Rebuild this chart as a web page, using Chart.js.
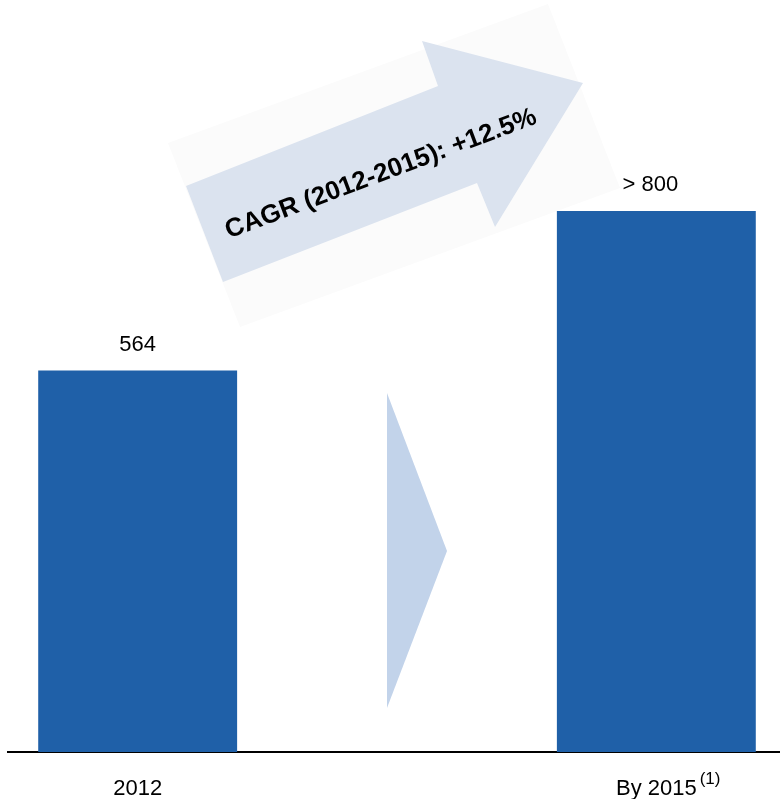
<!DOCTYPE html>
<html>
<head>
<meta charset="utf-8">
<script src="https://cdn.jsdelivr.net/npm/chart.js@4"></script>
<style>
  html, body { margin: 0; padding: 0; background: #fff; overflow: hidden; }
  #wrap { width: 780px; height: 799px; overflow: hidden; }
</style>
</head>
<body>
<div id="wrap"><canvas id="growth" width="786" height="799"></canvas></div>
<script>
// chart data
var categories = ['2012', '', 'By 2015'];
var values = [564, null, 800];
var valueLabels = ['564', null, '> 800'];
var footnote = '(1)';
var cagrText = 'CAGR (2012-2015): +12.5%';

var barColor = '#1f60a8';
var fontFamily = '"Liberation Sans", Arial, Helvetica, sans-serif';

// draws the decorations: shadow box, CAGR arrow, middle chevron, value labels, footnote
var decorations = {
  id: 'decorations',
  beforeDatasetsDraw: function(chart) {
    var ctx = chart.ctx;
    var x = chart.scales.x;
    var area = chart.chartArea;
    ctx.save();

    // faint box behind the arrow
    ctx.fillStyle = '#fbfbfb';
    ctx.beginPath();
    ctx.moveTo(168, 143);
    ctx.lineTo(548, 4);
    ctx.lineTo(620, 188);
    ctx.lineTo(240, 327);
    ctx.closePath();
    ctx.fill();

    // big CAGR arrow
    ctx.fillStyle = '#dbe3ef';
    ctx.beginPath();
    ctx.moveTo(186, 186);
    ctx.lineTo(438, 86);
    ctx.lineTo(422, 41);
    ctx.lineTo(583, 83);
    ctx.lineTo(495, 227);
    ctx.lineTo(477, 183);
    ctx.lineTo(223, 282);
    ctx.closePath();
    ctx.fill();

    ctx.save();
    ctx.translate(381, 174);
    ctx.rotate(-20.5 * Math.PI / 180);
    ctx.fillStyle = '#000';
    ctx.font = 'bold 26px ' + fontFamily;
    ctx.textAlign = 'center';
    ctx.textBaseline = 'middle';
    ctx.fillText(cagrText, 0, 0);
    ctx.restore();

    // chevron in the empty middle slot
    var mid = x.getPixelForValue(1);
    ctx.fillStyle = '#c2d3ea';
    ctx.beginPath();
    ctx.moveTo(mid - 10, area.top + 385);
    ctx.lineTo(mid + 50, area.top + 543);
    ctx.lineTo(mid - 10, area.top + 700);
    ctx.closePath();
    ctx.fill();

    ctx.restore();
  },
  afterDatasetsDraw: function(chart) {
    var ctx = chart.ctx;
    var meta = chart.getDatasetMeta(0);
    ctx.save();
    ctx.fillStyle = '#000';
    ctx.font = '22px ' + fontFamily;
    ctx.textAlign = 'center';
    ctx.textBaseline = 'bottom';
    meta.data.forEach(function(bar, i) {
      if (!valueLabels[i]) return;
      var shift = i === 2 ? -6 : 0;
      ctx.fillText(valueLabels[i], bar.x + shift, bar.y - 15);
    });

    // footnote marker next to last tick label
    var xs = chart.scales.x;
    var lx = xs.getPixelForValue(2);
    ctx.font = '22px ' + fontFamily;
    var w = ctx.measureText(categories[2]).width;
    ctx.font = '17px ' + fontFamily;
    ctx.textAlign = 'left';
    ctx.textBaseline = 'middle';
    ctx.fillText(footnote, lx + w / 2 + 3, 779);
    ctx.restore();
  }
};

var ctx = document.getElementById('growth').getContext('2d');
var growth = new Chart(ctx, {
  type: 'bar',
  data: {
    labels: categories,
    datasets: [{
      data: values,
      backgroundColor: barColor,
      borderWidth: 0,
      barPercentage: 0.767,
      categoryPercentage: 1
    }]
  },
  options: {
    responsive: false,
    animation: false,
    layout: { padding: { left: 8, top: 8, right: 0, bottom: 0 } },
    plugins: {
      legend: { display: false },
      tooltip: { enabled: false }
    },
    scales: {
      x: {
        grid: { display: false, drawTicks: false },
        border: { display: true, color: '#000', width: 2 },
        ticks: {
          color: '#000',
          padding: 24,
          font: { size: 22, family: fontFamily }
        },
        afterFit: function(scale) { scale.height = 47; }
      },
      y: {
        display: false,
        min: 0,
        max: 1100
      }
    }
  },
  plugins: [decorations]
});
</script>
</body>
</html>
